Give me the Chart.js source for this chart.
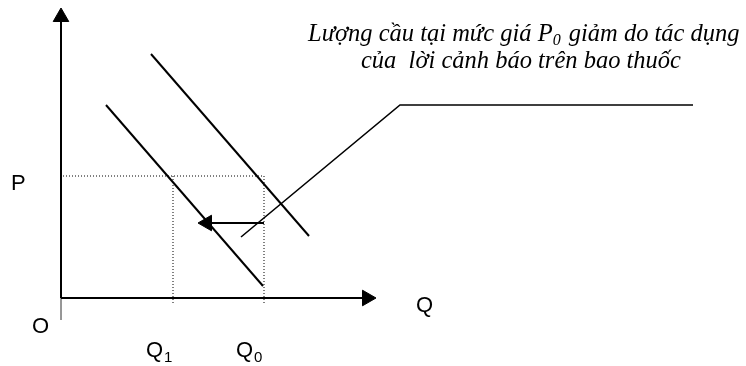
<!DOCTYPE html>
<html>
<head>
<meta charset="utf-8">
<script src="https://cdn.jsdelivr.net/npm/chart.js@4"></script>
<style>
  html, body { margin: 0; padding: 0; background: #fff; }
  .chart-box { width: 746px; height: 366px; }
</style>
</head>
<body>
<div class="chart-box"><canvas id="demand-shift-chart"></canvas></div>
<script>
// units measured from the origin O, Q to the right, P upward
const p0 = 122
const q1 = 112
const q0 = 203

const axis_y = [{x: 0, y: 0}, {x: 0, y: 283}]
const axis_x = [{x: 0, y: 0}, {x: 308, y: 0}]
const origin_tick = [{x: 0, y: 0}, {x: 0, y: -22}]
const demand_0 = [{x: 90, y: 244}, {x: 248, y: 62}]
const demand_1 = [{x: 45, y: 193}, {x: 202, y: 12}]
const price_line = [{x: 2, y: p0}, {x: q0, y: p0}]
const q1_line = [{x: q1, y: p0}, {x: q1, y: -6}]
const q0_line = [{x: q0, y: p0}, {x: q0, y: -6}]
const shift_arrow = [{x: q0, y: 75}, {x: 144, y: 75}]
const pointer = [{x: 180, y: 61}, {x: 339, y: 193}, {x: 632, y: 193}]

const arrow_heads = [{x: 0, y: 281}, {x: 306, y: 0}, {x: 146, y: 75}]
const arrow_rotation = [0, 90, -90]

const note_lines = [
  ['Lượng cầu tại mức giá P', '0', ' giảm do tác dụng'],
  ['của  lời cảnh báo trên bao thuốc', '', ''],
]

const seg = (data, width, dash) => ({
  data: data,
  showLine: true,
  borderColor: '#000',
  borderWidth: width,
  borderDash: dash || [],
  pointRadius: 0,
  fill: false,
})

const labelPlugin = {
  id: 'labels',
  afterDraw(chart) {
    const ctx = chart.ctx
    const sx = chart.scales.x
    const sy = chart.scales.y
    ctx.save()
    ctx.fillStyle = '#000'
    ctx.textBaseline = 'alphabetic'

    const sans = '22px "Liberation Sans", Arial, sans-serif'
    const subSans = '15px "Liberation Sans", Arial, sans-serif'
    const put = (text, sub, x, y) => {
      ctx.font = sans
      ctx.textAlign = 'left'
      const px = sx.getPixelForValue(x)
      const py = sy.getPixelForValue(y)
      ctx.fillText(text, px, py)
      if (sub) {
        const w = ctx.measureText(text).width
        ctx.font = subSans
        ctx.fillText(sub, px + w + 1, py + 5)
      }
    }
    put('P', '', -50, 108)
    put('O', '', -29, -35)
    put('Q', '', 355, -14)
    put('Q', '1', q1 - 27, -59)
    put('Q', '0', q0 - 28, -59)

    // note, italic serif, each line from its own left edge
    const serif = 'italic 24.5px "Liberation Serif", "Times New Roman", serif'
    const subSerif = 'italic 16px "Liberation Serif", "Times New Roman", serif'
    const starts = [sx.getPixelForValue(247), sx.getPixelForValue(300)]
    const baselines = [sy.getPixelForValue(257), sy.getPixelForValue(230)]
    note_lines.forEach((parts, i) => {
      let px = starts[i]
      ctx.font = serif
      ctx.fillText(parts[0], px, baselines[i])
      px += ctx.measureText(parts[0]).width
      ctx.font = subSerif
      ctx.fillText(parts[1], px, baselines[i] + 4)
      px += ctx.measureText(parts[1]).width + 2
      ctx.font = serif
      ctx.fillText(parts[2], px, baselines[i])
    })
    ctx.restore()
  }
}

new Chart(document.getElementById('demand-shift-chart').getContext('2d'), {
  type: 'scatter',
  data: {
    datasets: [
      seg(axis_y, 2),
      seg(axis_x, 2),
      {...seg(origin_tick, 1), borderColor: '#888'},
      seg(price_line, 1, [1, 2]),
      seg(q1_line, 1, [1, 2]),
      seg(q0_line, 1, [1, 2]),
      seg(demand_0, 2),
      seg(demand_1, 2),
      seg(shift_arrow, 2),
      seg(pointer, 1.6),
      {
        data: arrow_heads,
        showLine: false,
        pointStyle: 'triangle',
        pointRadius: 9,
        pointRotation: arrow_rotation,
        backgroundColor: '#000',
        borderColor: '#000',
        borderWidth: 1,
      },
    ]
  },
  options: {
    responsive: true,
    maintainAspectRatio: false,
    animation: false,
    events: [],
    layout: { padding: 0, autoPadding: false },
    plugins: {
      legend: { display: false },
      tooltip: { enabled: false },
    },
    scales: {
      x: { type: 'linear', min: -61, max: 685, display: false },
      y: { type: 'linear', min: -68, max: 298, display: false },
    }
  },
  plugins: [labelPlugin]
})
</script>
</body>
</html>
